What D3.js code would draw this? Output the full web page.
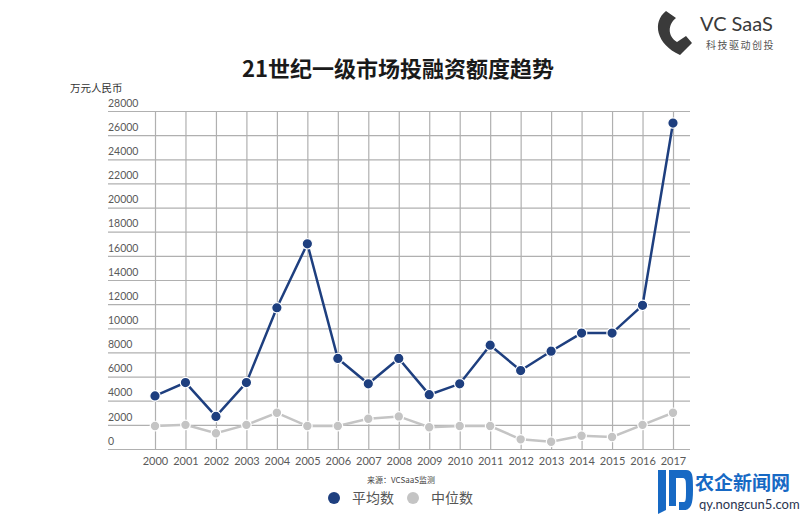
<!DOCTYPE html>
<html lang="zh">
<head>
<meta charset="utf-8">
<title>21世纪一级市场投融资额度趋势</title>
<script src="https://d3js.org/d3.v7.min.js"></script>
<style>
  body { margin: 0; background: #fff; }
  text { font-family: Lato, "Noto Sans CJK SC", sans-serif; }
  .cjk { font-family: "Noto Sans CJK SC", sans-serif; }
</style>
</head>
<body>
<div id="chart"></div>
<script>
// data (万元人民币)
var years = ["2000","2001","2002","2003","2004","2005","2006","2007","2008",
             "2009","2010","2011","2012","2013","2014","2015","2016","2017"];
var meanValues   = [4400, 5500, 2700, 5500, 11700, 17000, 7500, 5400, 7500,
                    4500, 5400, 8600, 6500, 8100, 9600, 9600, 11900, 27000];
var medianValues = [1900, 2000, 1300, 2000, 3000, 1900, 1900, 2500, 2700,
                    1800, 1900, 1900, 800, 600, 1100, 1000, 2000, 3000];
var yTicks = [0, 2000, 4000, 6000, 8000, 10000, 12000, 14000, 16000,
              18000, 20000, 22000, 24000, 26000, 28000];
var seriesNames = ["平均数", "中位数"];

var width = 800, height = 518;
var navy = "#1e3f7f", grey = "#c4c4c4", gridColor = "#b0b0b0";

var svg = d3.select("#chart").append("svg")
    .attr("width", width)
    .attr("height", height);

var x = d3.scalePoint().domain(years).range([155, 673]);
var y = d3.scaleLinear().domain([0, 28000]).range([449, 111]);

// horizontal grid with labels sitting on top of each line
var yAxis = d3.axisLeft(y)
    .tickValues(yTicks)
    .tickSize(-(690 - 108))
    .tickFormat(d3.format("d"));

var gy = svg.append("g")
    .attr("transform", "translate(108,0)")
    .call(yAxis);
gy.select(".domain").remove();
gy.selectAll(".tick line")
    .attr("stroke", gridColor)
    .attr("stroke-width", 1.2);
gy.selectAll(".tick text")
    .attr("x", 0)
    .attr("dy", "-0.45em")
    .attr("text-anchor", "start")
    .attr("fill", "#5a5a5a")
    .style("font-size", "10.5px");

// vertical grid lines + year labels
var xAxis = d3.axisBottom(x)
    .tickSize(-(449 - 111))
    .tickPadding(8);
var gx = svg.append("g")
    .attr("transform", "translate(0,449)")
    .call(xAxis);
gx.select(".domain").remove();
gx.selectAll(".tick line")
    .attr("stroke", gridColor)
    .attr("stroke-width", 1.2);
gx.selectAll(".tick text")
    .attr("fill", "#5a5a5a")
    .style("font-size", "11px");

// lines
var line = d3.line()
    .x(function(d, i) { return x(years[i]); })
    .y(function(d) { return y(d); });

svg.append("path")
    .datum(medianValues)
    .attr("fill", "none")
    .attr("stroke", grey)
    .attr("stroke-width", 2.5)
    .attr("d", line);

svg.selectAll(".median")
    .data(medianValues)
    .enter().append("circle")
    .attr("class", "median")
    .attr("cx", function(d, i) { return x(years[i]); })
    .attr("cy", function(d) { return y(d); })
    .attr("r", 4.8)
    .attr("fill", grey)
    .attr("stroke", "#fff")
    .attr("stroke-width", 1.2);

svg.append("path")
    .datum(meanValues)
    .attr("fill", "none")
    .attr("stroke", navy)
    .attr("stroke-width", 2.5)
    .attr("d", line);

svg.selectAll(".mean")
    .data(meanValues)
    .enter().append("circle")
    .attr("class", "mean")
    .attr("cx", function(d, i) { return x(years[i]); })
    .attr("cy", function(d) { return y(d); })
    .attr("r", 5.2)
    .attr("fill", navy)
    .attr("stroke", "#fff")
    .attr("stroke-width", 1.2);

// title and unit
svg.append("text")
    .attr("class", "cjk")
    .attr("x", 398)
    .attr("y", 77)
    .attr("text-anchor", "middle")
    .attr("font-weight", "bold")
    .attr("fill", "#1a1a1a")
    .style("font-size", "22px")
    .text("21世纪一级市场投融资额度趋势");

svg.append("text")
    .attr("class", "cjk")
    .attr("x", 70)
    .attr("y", 92)
    .attr("fill", "#333")
    .style("font-size", "10.5px")
    .text("万元人民币");

// source + legend
svg.append("text")
    .attr("class", "cjk")
    .attr("x", 401)
    .attr("y", 483)
    .attr("text-anchor", "middle")
    .attr("fill", "#444")
    .style("font-size", "8px")
    .text("来源：VCSaaS监测");

var legend = svg.selectAll(".legend")
    .data(seriesNames)
    .enter().append("g")
    .attr("class", "legend")
    .attr("transform", function(d, i) { return "translate(" + (334 + i * 79) + ",498)"; });
legend.append("circle")
    .attr("r", 6)
    .attr("fill", function(d, i) { return i === 0 ? navy : grey; });
legend.append("text")
    .attr("class", "cjk")
    .attr("x", 18)
    .attr("y", 5)
    .attr("fill", "#555")
    .style("font-size", "14px")
    .text(function(d) { return d; });

// VC SaaS logo, top right
var logo = svg.append("g");
logo.append("path")
    .attr("d", "M666,11 L676,18 C668,24 667,36 677,42 L686,36 L692,43 L680,55 C656,44 652,22 666,11 Z")
    .attr("fill", "#3a3a3a");
logo.append("text")
    .attr("x", 700)
    .attr("y", 31)
    .attr("fill", "#3a3a3a")
    .style("font-size", "20px")
    .text("VC SaaS");
logo.append("text")
    .attr("class", "cjk")
    .attr("x", 706)
    .attr("y", 49)
    .attr("fill", "#555")
    .style("font-size", "10px")
    .attr("letter-spacing", "1.5px")
    .text("科技驱动创投");

// site watermark, bottom right
var wm = svg.append("g");
wm.append("path")
    .attr("d", "M658,470 L666,470 L666,510 L658,514 Z M669,470 L686,470 C693,470 693,476 693,490 C693,504 691,510 684,510 L679,510 L679,502 L684,502 C686,502 686,498 686,490 C686,480 686,478 682,478 L676,478 L676,506 L669,506 Z")
    .attr("fill", "#1769c4");
wm.append("text")
    .attr("class", "cjk")
    .attr("x", 695)
    .attr("y", 490)
    .attr("fill", "#1769c4")
    .attr("font-weight", "bold")
    .style("font-size", "19px")
    .text("农企新闻网");
wm.append("text")
    .attr("x", 699)
    .attr("y", 509)
    .attr("fill", "#2a3550")
    .style("font-size", "13px")
    .attr("font-family", "'Open Sans', sans-serif")
    .text("qy.nongcun5.com");
</script>
</body>
</html>
